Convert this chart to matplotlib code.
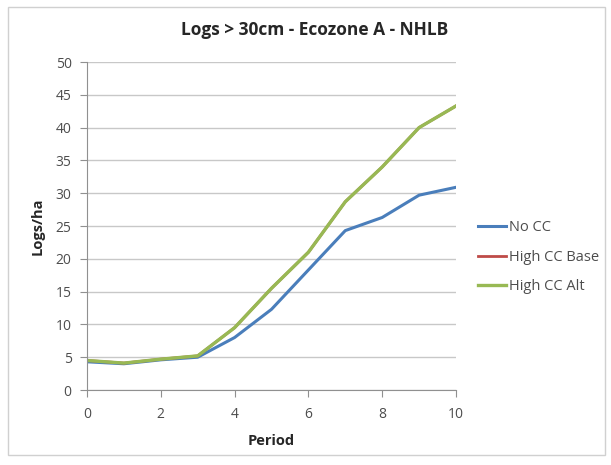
import matplotlib.pyplot as plt
import numpy as np

plt.rcParams['font.family'] = ['Open Sans', 'DejaVu Sans']

periods = [0, 1, 2, 3, 4, 5, 6, 7, 8, 9, 10]
no_cc = [4.3, 4.0, 4.6, 5.0, 8.0, 12.3, 18.3, 24.3, 26.3, 29.7, 30.9]
high_cc_base = [4.5, 4.1, 4.7, 5.2, 9.5, 15.5, 21.0, 28.7, 34.0, 40.0, 43.3]
high_cc_alt = [4.5, 4.1, 4.7, 5.2, 9.5, 15.5, 21.0, 28.7, 34.0, 40.0, 43.3]

fig = plt.figure(figsize=(6.11, 4.65), dpi=100)
ax = fig.add_axes([87 / 611, 1 - 390 / 465, (456 - 87) / 611, (390 - 62) / 465])

# outer chart border
fig.patches.append(plt.Rectangle((8 / 611, 10 / 465), 597 / 611, 448 / 465,
                                 transform=fig.transFigure, fill=False,
                                 edgecolor='#d0d0d0', linewidth=1))

ax.plot(periods, no_cc, color='#4a7ebb', linewidth=2.2, label='No CC')
ax.plot(periods, high_cc_base, color='#be4b48', linewidth=2.0, label='High CC Base')
ax.plot(periods, high_cc_alt, color='#98b954', linewidth=2.4, label='High CC Alt')

ax.set_xlim(0, 10)
ax.set_ylim(0, 50)
ax.set_xticks(np.arange(0, 11, 2))
ax.set_yticks(np.arange(0, 51, 5))
ax.yaxis.grid(True, color='#c8c8c8', linewidth=1)
ax.set_axisbelow(True)
for s in ['top', 'right']:
    ax.spines[s].set_visible(False)
ax.spines['left'].set_color('#909090')
ax.spines['bottom'].set_color('#909090')
ax.tick_params(axis='both', colors='#909090', labelcolor='#4d4d4d',
               labelsize=10, length=5, direction='out')
ax.tick_params(axis='y', pad=6)
ax.tick_params(axis='x', pad=7)

fig.text(315 / 611, 1 - 30 / 465, 'Logs > 30cm - Ecozone A - NHLB', fontsize=12.5,
         fontweight='bold', color='#262626', ha='center', va='center')
ax.set_xlabel('Period', fontsize=10.5, fontweight='bold', color='#262626', labelpad=9)
ax.set_ylabel('Logs/ha', fontsize=10.5, fontweight='bold', color='#262626', labelpad=8)

ax.legend(loc='center left', bbox_to_anchor=(1.025, 0.405), frameon=False,
          fontsize=10.5, handlelength=1.9, handletextpad=0.2, labelspacing=1.0,
          labelcolor='#4d4d4d')

fig.savefig('out.png', dpi=100)
